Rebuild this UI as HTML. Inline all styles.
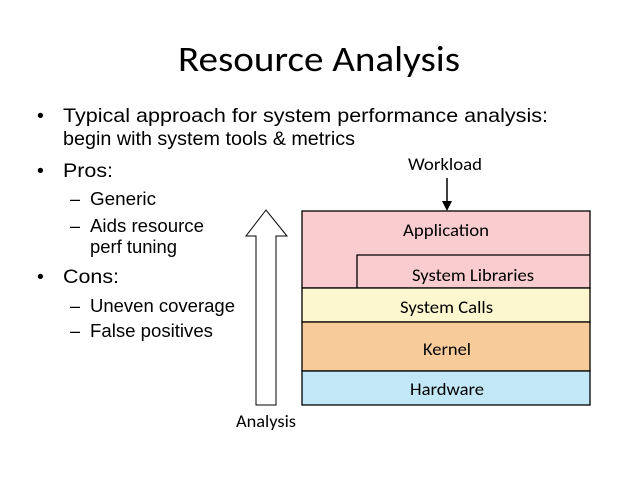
<!DOCTYPE html>
<html><head><meta charset="utf-8"><style>
html,body{margin:0;padding:0;background:#fff;width:638px;height:479px;overflow:hidden}
svg{display:block}
.a{font-family:"Liberation Sans",Arial,sans-serif;fill:#000}
.c{font-family:"Carlito","Liberation Sans",sans-serif;fill:#000}
</style></head><body>
<svg width="638" height="479" xmlns="http://www.w3.org/2000/svg">
<text class="c" x="178" y="71" font-size="36" textLength="282" lengthAdjust="spacingAndGlyphs">Resource Analysis</text>
<g class="a" font-size="19.5">
<text x="37" y="122">•</text><text x="63" y="122" textLength="485" lengthAdjust="spacingAndGlyphs">Typical approach for system performance analysis:</text>
<text x="63" y="145" textLength="292" lengthAdjust="spacingAndGlyphs">begin with system tools &amp; metrics</text>
<text x="37" y="177">•</text><text x="63" y="177" textLength="50" lengthAdjust="spacingAndGlyphs">Pros:</text>
<text x="37" y="283">•</text><text x="63" y="283" textLength="56" lengthAdjust="spacingAndGlyphs">Cons:</text>
</g>
<g class="a" font-size="18">
<text x="70" y="205">–</text><text x="90" y="205" textLength="66" lengthAdjust="spacingAndGlyphs">Generic</text>
<text x="70" y="232">–</text><text x="90" y="232" textLength="114" lengthAdjust="spacingAndGlyphs">Aids resource</text>
<text x="90" y="253" textLength="87" lengthAdjust="spacingAndGlyphs">perf tuning</text>
<text x="70" y="312">–</text><text x="90" y="312" textLength="145" lengthAdjust="spacingAndGlyphs">Uneven coverage</text>
<text x="70" y="337">–</text><text x="90" y="337" textLength="123" lengthAdjust="spacingAndGlyphs">False positives</text>
</g>
<polygon points="256,405 276,405 276,236 287,236 266,210 246,236 256,236" fill="#fff" stroke="#000" stroke-width="1"/>
<g stroke="#000" stroke-width="1.3">
<rect x="302" y="211" width="288" height="77" fill="#f9cccf"/>
<polyline points="357,288 357,255 590,255" fill="none"/>
<rect x="302" y="288" width="288" height="34" fill="#fdf7cf"/>
<rect x="302" y="322" width="288" height="49" fill="#f8cc9a"/>
<rect x="302" y="371" width="288" height="34" fill="#c2e7f7"/>
</g>
<g class="c" font-size="17">
<text x="403" y="236" textLength="86" lengthAdjust="spacingAndGlyphs">Application</text>
<text x="412" y="281" textLength="122" lengthAdjust="spacingAndGlyphs">System Libraries</text>
<text x="400" y="313" textLength="93" lengthAdjust="spacingAndGlyphs">System Calls</text>
<text x="423" y="355" textLength="48" lengthAdjust="spacingAndGlyphs">Kernel</text>
<text x="410" y="395" textLength="74" lengthAdjust="spacingAndGlyphs">Hardware</text>
<text x="408" y="170" textLength="74" lengthAdjust="spacingAndGlyphs">Workload</text>
<text x="236" y="427" textLength="60" lengthAdjust="spacingAndGlyphs">Analysis</text>
</g>
<line x1="447" y1="178" x2="447" y2="202" stroke="#000" stroke-width="1.5"/>
<polygon points="442,201 452,201 447,211" fill="#000"/>
</svg>
</body></html>
